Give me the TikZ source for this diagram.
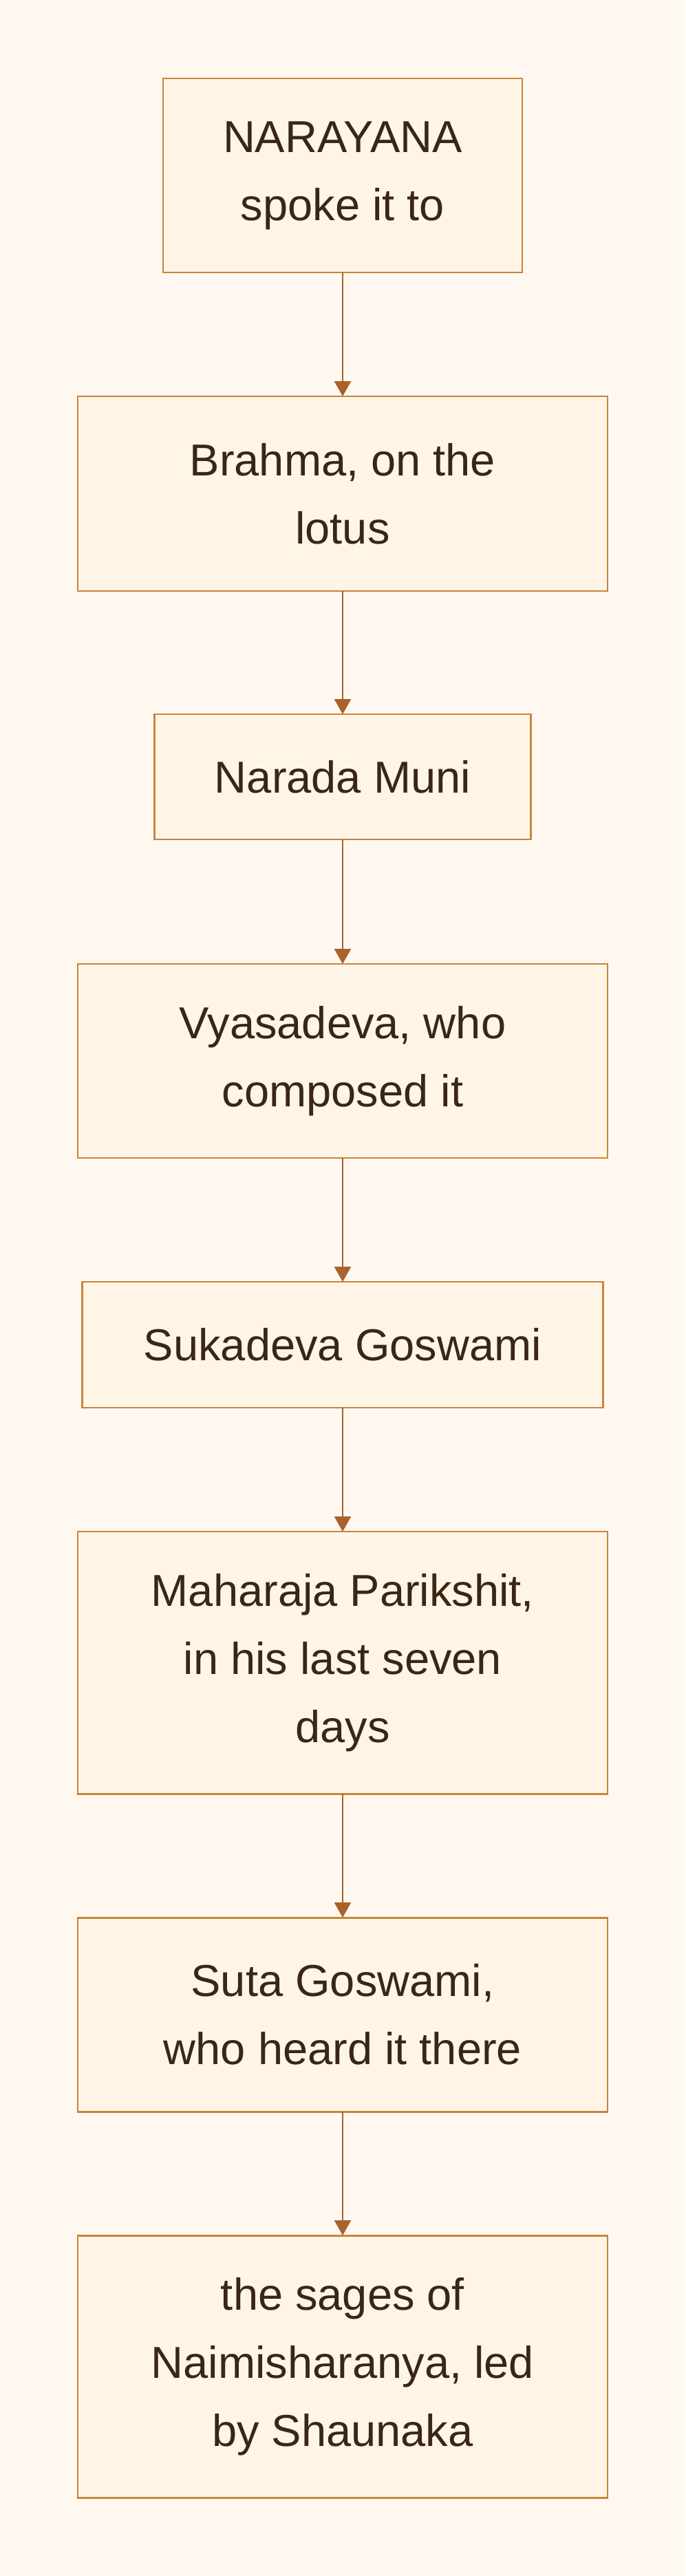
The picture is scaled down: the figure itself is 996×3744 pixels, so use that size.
\documentclass[tikz,border=0pt]{standalone}
\usepackage{fontspec}
\setmainfont{Liberation Sans}
\usetikzlibrary{arrows.meta}
\definecolor{bgc}{HTML}{FFF8F0}
\definecolor{boxfill}{HTML}{FFF5E6}
\definecolor{boxline}{HTML}{C8843C}
\definecolor{arrowc}{HTML}{A8622A}
\definecolor{textc}{HTML}{3A2614}
\tikzset{
  stagebox/.style={draw=boxline, fill=boxfill, line width=2.2pt, inner sep=0pt, outer sep=0pt,
    align=center, text=textc, font={\fontsize{48.75pt}{74.25pt}\selectfont}},
  flowarrow/.style={draw=arrowc, line width=2pt, -{Triangle[width=18pt,length=16.5pt]}}
}
\begin{document}
\begin{tikzpicture}[x=0.75pt, y=-0.75pt]
\fill[bgc] (0,0) rectangle (996,3744);
\useasboundingbox (0,0) rectangle (996,3744);
\node[stagebox, minimum width=391.5pt, minimum height=211.5pt] (n1) at (498,255) {NARAYANA\\spoke it to};
\node[stagebox, minimum width=577.5pt, minimum height=212.25pt] (n2) at (498,717.5) {Brahma, on the\\lotus};
\node[stagebox, minimum width=410.25pt, minimum height=136.5pt] (n3) at (498,1129) {Narada Muni};
\node[stagebox, minimum width=577.5pt, minimum height=211.5pt] (n4) at (498,1542) {Vyasadeva, who\\composed it};
\node[stagebox, minimum width=567.75pt, minimum height=137.25pt] (n5) at (498,1954.5) {Sukadeva Goswami};
\node[stagebox, minimum width=577.5pt, minimum height=285.75pt] (n6) at (498,2416.5) {Maharaja Parikshit,\\in his last seven\\days};
\node[stagebox, minimum width=577.5pt, minimum height=211.5pt] (n7) at (498,2928) {Suta Goswami,\\who heard it there};
\node[stagebox, minimum width=577.5pt, minimum height=285.75pt] (n8) at (498,3439.5) {the sages of\\Naimisharanya, led\\by Shaunaka};
\draw[flowarrow] (n1) -- (n2);
\draw[flowarrow] (n2) -- (n3);
\draw[flowarrow] (n3) -- (n4);
\draw[flowarrow] (n4) -- (n5);
\draw[flowarrow] (n5) -- (n6);
\draw[flowarrow] (n6) -- (n7);
\draw[flowarrow] (n7) -- (n8);
\end{tikzpicture}
\end{document}
